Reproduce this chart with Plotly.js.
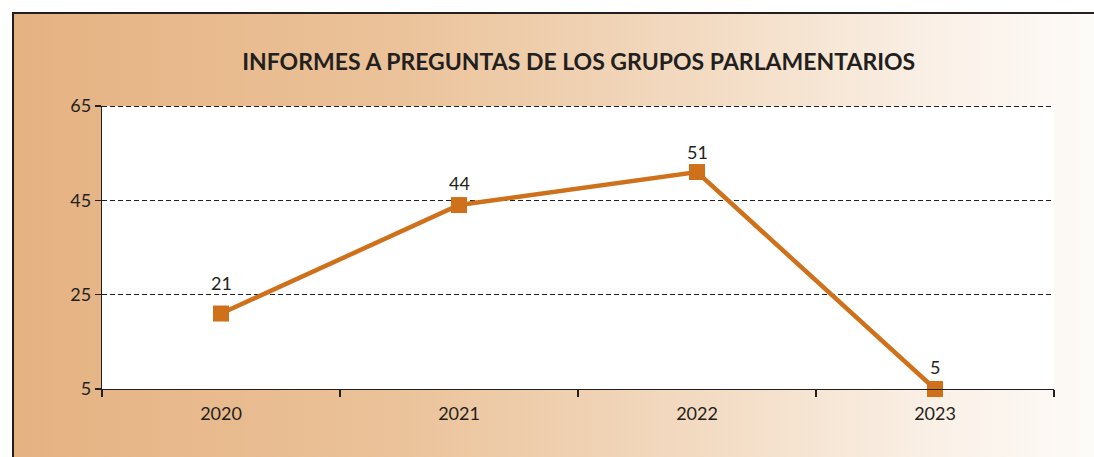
<!DOCTYPE html>
<html>
<head>
<meta charset="utf-8">
<script src="https://cdn.plot.ly/plotly-3.0.1.min.js"></script>
<style>
html,body{margin:0;padding:0;background:#fff;}
#wrap{position:relative;width:1094px;height:457px;overflow:hidden;background:#fff;}
#bg{position:absolute;left:12px;top:12px;width:1082px;height:445px;
 border-top:2px solid #231f20;border-left:2px solid #231f20;box-sizing:border-box;
 background:linear-gradient(to right,#e5b282 0%,#ebc299 35%,#f3dcc4 65%,#faf0e6 85%,#fdfbf8 100%);}
#chart{position:absolute;left:0;top:0;width:1094px;height:457px;}
</style>
</head>
<body>
<div id="wrap"><div id="bg"></div><div id="chart"></div></div>
<script>
const years = ['2020','2021','2022','2023'];
const values = [21, 44, 51, 5];
const yTicks = [5, 25, 45, 65];
const titleText = 'INFORMES A PREGUNTAS DE LOS GRUPOS PARLAMENTARIOS';

const lineColor = '#cf711b';
const ink = '#231f20';
const fontFam = 'Lato, "Open Sans", sans-serif';
const labelShift = [31, 22, 20, 22];

const trace = {
  x: years, y: values, type: 'scatter', mode: 'lines+markers',
  line: {color: lineColor, width: 4.5},
  marker: {symbol: 'square', size: 16, color: lineColor},
  hoverinfo: 'skip', cliponaxis: false
};

const annotations = values.map((v, i) => ({
  x: i, y: v, xref: 'x', yref: 'y', text: String(v),
  showarrow: false, yshift: labelShift[i], font: {family: fontFam, size: 18, color: ink}
}));

const topGrid = Math.max(...yTicks);

const layout = {
  width: 1094, height: 457,
  margin: {l: 102, r: 40, t: 106, b: 68},
  paper_bgcolor: 'rgba(0,0,0,0)', plot_bgcolor: '#ffffff',
  showlegend: false,
  title: {text: '<b>' + titleText + '</b>', x: 0.529, xanchor: 'center', y: 0.864, yanchor: 'middle',
          font: {family: fontFam, size: 23, color: ink}},
  xaxis: {type: 'category', range: [-0.5, 3.5], tickson: 'boundaries', ticks: 'outside', ticklen: 7,
          tickcolor: ink, tickwidth: 1.2, showline: true, linecolor: ink, linewidth: 1.2,
          showgrid: false, zeroline: false, fixedrange: true, ticklabelstandoff: 8,
          tickfont: {family: fontFam, size: 18, color: ink}},
  yaxis: {range: [5, 65], tickvals: yTicks, ticktext: yTicks.map(String), ticks: 'outside', ticklen: 6,
          tickcolor: ink, tickwidth: 1.2, showline: true, linecolor: ink, linewidth: 1.2,
          showgrid: true, gridcolor: ink, gridwidth: 1, griddash: '5px,3px', zeroline: false,
          fixedrange: true, tickfont: {family: fontFam, size: 18, color: ink}},
  shapes: [{type: 'line', xref: 'paper', x0: 0, x1: 1, yref: 'y', ysizemode: 'pixel', yanchor: topGrid,
            y0: -0.5, y1: -0.5, line: {color: ink, width: 1, dash: '5px,3px'}, layer: 'above'}],
  annotations: annotations
};

Plotly.newPlot('chart', [trace], layout, {displayModeBar: false, staticPlot: true});
</script>
</body>
</html>
